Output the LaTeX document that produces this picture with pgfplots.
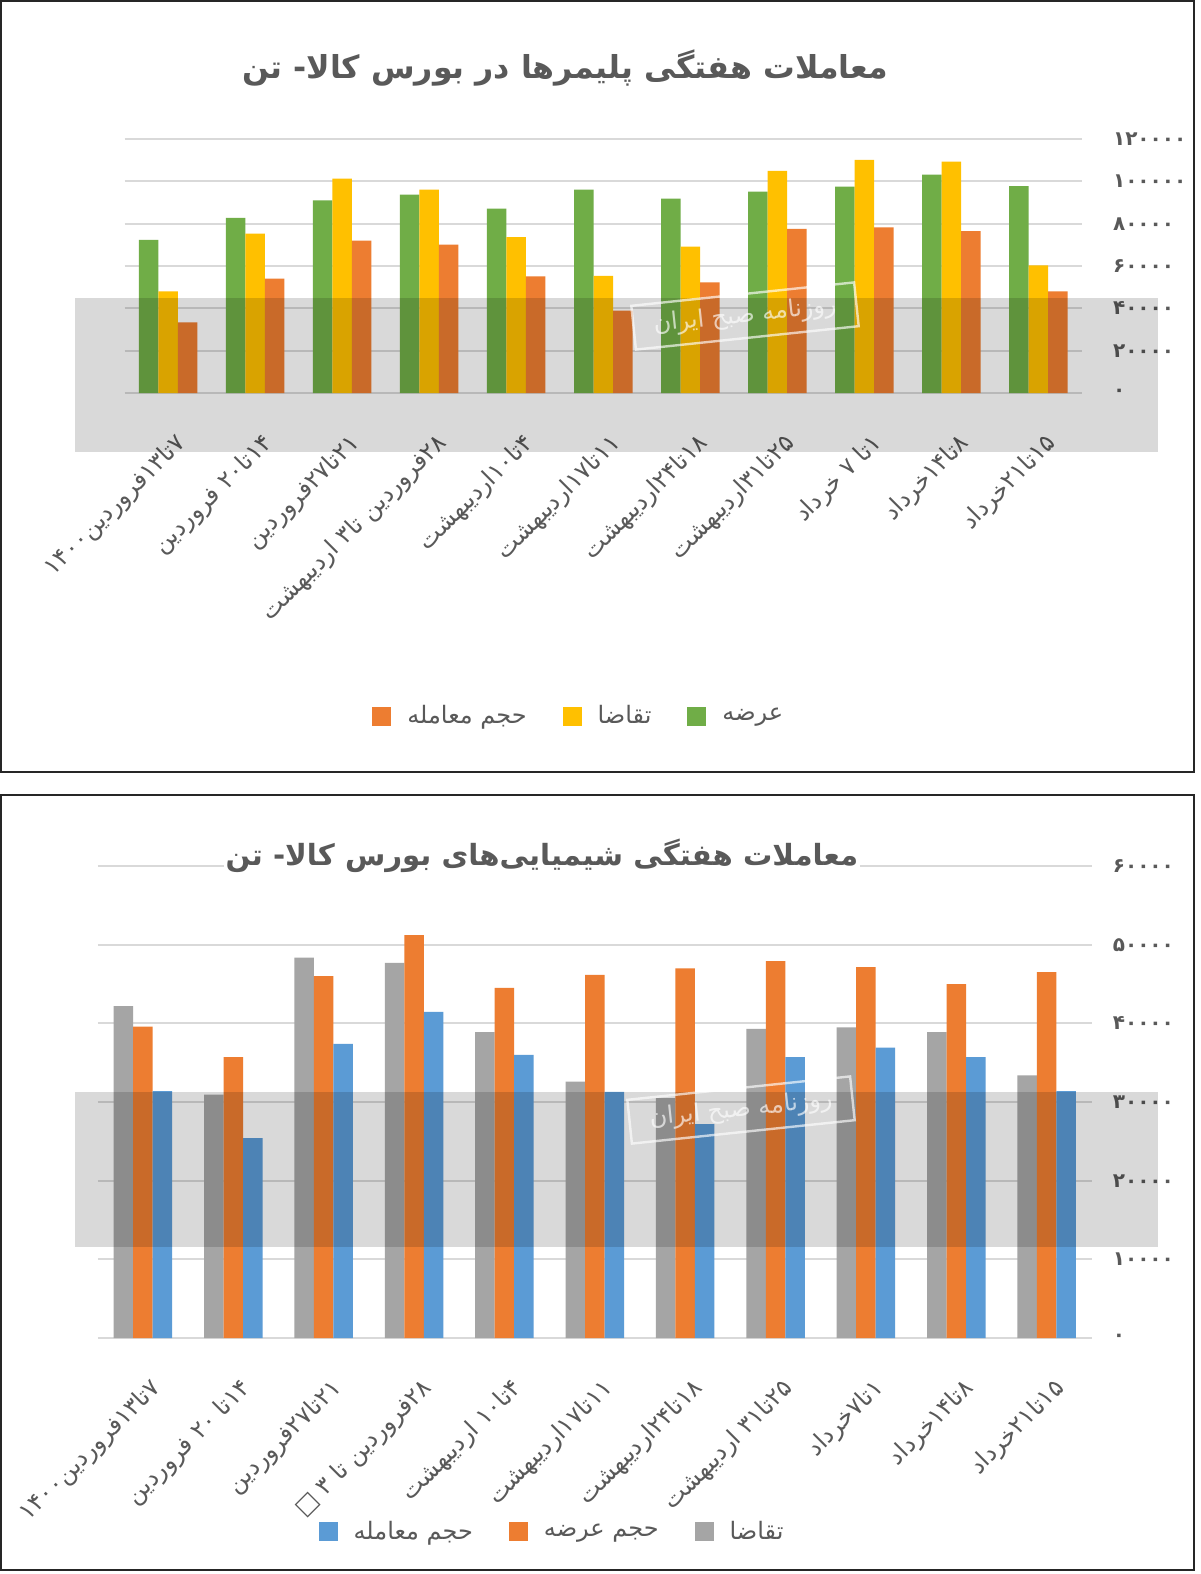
\documentclass[border=0pt]{standalone}
\usepackage{fontspec}
\usepackage{pgfplots}
\usepackage{pgfplotstable}
\pgfplotsset{compat=1.18}
\TeXXeTstate=1
\newfontfamily\arabicfont[Script=Arabic]{DejaVu Sans}
\definecolor{cgreen}{HTML}{70AD47}
\definecolor{cyellow}{HTML}{FFC000}
\definecolor{corange}{HTML}{ED7D31}
\definecolor{cgray}{HTML}{A5A5A5}
\definecolor{cblue}{HTML}{5B9BD5}
\definecolor{gridc}{HTML}{D9D9D9}
\definecolor{txt}{HTML}{595959}
\newcommand\catfont{\arabicfont\fontsize{12}{13}\selectfont}
\newcommand\numfont{\arabicfont\bfseries\fontsize{10}{11}\selectfont}
\newcommand\legfont{\arabicfont\fontsize{12}{13}\selectfont}

\pgfplotstableread{
x supply demand trade
0 72300 48000 33400
1 82800 75300 54000
2 91000 101300 72000
3 93700 96100 70100
4 87100 73700 55100
5 96100 55300 38900
6 91800 69100 52300
7 95100 105000 77600
8 97500 110200 78300
9 103200 109300 76500
10 97800 60300 48000
}\polymer

\pgfplotstableread{
x demand supply trade
0 42200 39600 31400
1 30950 35700 25400
2 48350 46000 37400
3 47700 51200 41450
4 38900 44500 36000
5 32600 46150 31300
6 30500 47000 27200
7 39300 47900 35700
8 39500 47150 36900
9 38900 45000 35700
10 33400 46500 31400
}\chem

\pgfplotsset{
  common/.style={
    anchor=south west, scale only axis,
    ybar=0pt,
    xmin=-0.5, xmax=10.5, ymin=0,
    scaled y ticks=false,
    axis line style={draw=none},
    major tick length=0pt,
    ymajorgrids, grid style={draw=gridc, line width=1pt},
    yticklabel pos=right,
    yticklabel style={font=\numfont, text=txt, anchor=west},
    xtick={0,...,10},
    xticklabel style={rotate=45, anchor=north east, font=\catfont, text=txt, yshift=-12pt, xshift=-8pt},
    reverse legend=true,
    legend columns=3,
    legend image code/.code={\draw[#1,draw=none] (0pt,-4.75pt) rectangle (9.5pt,4.75pt);},
    legend style={draw=none, fill=none, font=\legfont, text=txt,
      /tikz/every odd column/.append style={column sep=6pt},
      /tikz/every even column/.append style={column sep=16pt}},
  }
}

\begin{document}
\begin{tikzpicture}
\useasboundingbox (0,0) rectangle (600pt,-787pt);
\fill[white] (0,0) rectangle (600pt,-787pt);
\draw[black!85, line width=0.8pt] (0.5pt,-0.5pt) rectangle (597pt,-386pt);
\draw[black!85, line width=0.8pt] (0.5pt,-397.5pt) rectangle (597pt,-785pt);

% top chart
\begin{axis}[common,
  at={(62.25pt,-196.5pt)}, width=478.75pt, height=127pt,
  bar width=9.75pt, ymax=120000,
  ytick={0,20000,40000,60000,80000,100000,120000},
  yticklabels={۰,۲۰۰۰۰,۴۰۰۰۰,۶۰۰۰۰,۸۰۰۰۰,۱۰۰۰۰۰,۱۲۰۰۰۰},
  yticklabel style={xshift=12pt},
  xticklabels={{\beginR ۷تا۱۳فروردین۱۴۰۰\endR},{\beginR ۱۴تا۲۰ فروردین\endR},{\beginR ۲۱تا۲۷فروردین\endR},{\beginR ۲۸فروردین تا۳ اردیبهشت\endR},{\beginR ۴تا۱۰اردیبهشت\endR},{\beginR ۱۱تا۱۷اردیبهشت\endR},{\beginR ۱۸تا۲۴اردیبهشت\endR},{\beginR ۲۵تا۳۱اردیبهشت\endR},{\beginR ۱تا ۷ خرداد\endR},{\beginR ۸تا۱۴خرداد\endR},{\beginR ۱۵تا۲۱خرداد\endR}},
  legend style={at={(0.4755,-1.272)}, anchor=center},
]
\addplot[fill=cgreen, draw=none] table[x=x, y=supply] {\polymer};
\addlegendentry{\beginR عرضه\endR}
\addplot[fill=cyellow, draw=none] table[x=x, y=demand] {\polymer};
\addlegendentry{\beginR تقاضا\endR}
\addplot[fill=corange, draw=none] table[x=x, y=trade] {\polymer};
\addlegendentry{\beginR حجم معامله\endR}
\end{axis}

% bottom chart
\begin{axis}[common,
  at={(48.9pt,-669pt)}, width=497pt, height=236pt,
  bar width=9.75pt, ymax=60000,
  ytick={0,10000,20000,30000,40000,50000,60000},
  yticklabels={۰,۱۰۰۰۰,۲۰۰۰۰,۳۰۰۰۰,۴۰۰۰۰,۵۰۰۰۰,۶۰۰۰۰},
  yticklabel style={xshift=7pt},
  xticklabels={{\beginR ۷تا۱۳فروردین۱۴۰۰\endR},{\beginR ۱۴تا ۲۰ فروردین\endR},{\beginR ۲۱تا۲۷فروردین\endR},{\beginR ۲۸فروردین تا ۳ □\endR},{\beginR ۴تا۱۰ اردیبهشت\endR},{\beginR ۱۱تا۱۷اردیبهشت\endR},{\beginR ۱۸تا۲۴اردیبهشت\endR},{\beginR ۲۵تا۳۱ اردیبهشت\endR},{\beginR ۱تا۷خرداد\endR},{\beginR ۸تا۱۴خرداد\endR},{\beginR ۱۵تا۲۱خرداد\endR}},
  legend style={at={(0.458,-0.41)}, anchor=center},
]
\addplot[fill=cgray, draw=none] table[x=x, y=demand] {\chem};
\addlegendentry{\beginR تقاضا\endR}
\addplot[fill=corange, draw=none] table[x=x, y=supply] {\chem};
\addlegendentry{\beginR حجم عرضه\endR}
\addplot[fill=cblue, draw=none] table[x=x, y=trade] {\chem};
\addlegendentry{\beginR حجم معامله\endR}
\end{axis}

% titles
\node[font=\arabicfont\bfseries\fontsize{15.8}{19}\selectfont, text=txt] at (282.5pt,-34pt) {\beginR معاملات هفتگی پلیمرها در بورس کالا- تن\endR};
\node[font=\arabicfont\bfseries\fontsize{14.6}{18}\selectfont, text=txt, fill=white, inner sep=1pt] at (271pt,-428pt) {\beginR معاملات هفتگی شیمیایی‌های بورس کالا- تن\endR};

% watermark bands
\fill[black, opacity=0.15] (37.5pt,-149pt) rectangle (579pt,-226pt);
\fill[black, opacity=0.15] (37.5pt,-546pt) rectangle (579pt,-623.5pt);
\node[draw=white, line width=1.2pt, rotate=6, text=white, opacity=0.65,
  font=\arabicfont\fontsize{12}{13}\selectfont, minimum width=112pt, minimum height=22pt]
  at (372.5pt,-158pt) {\beginR روزنامه صبح ایران\endR};
\node[draw=white, line width=1.2pt, rotate=6, text=white, opacity=0.65,
  font=\arabicfont\fontsize{12}{13}\selectfont, minimum width=112pt, minimum height=22pt]
  at (370.5pt,-555pt) {\beginR روزنامه صبح ایران\endR};
\end{tikzpicture}
\end{document}
